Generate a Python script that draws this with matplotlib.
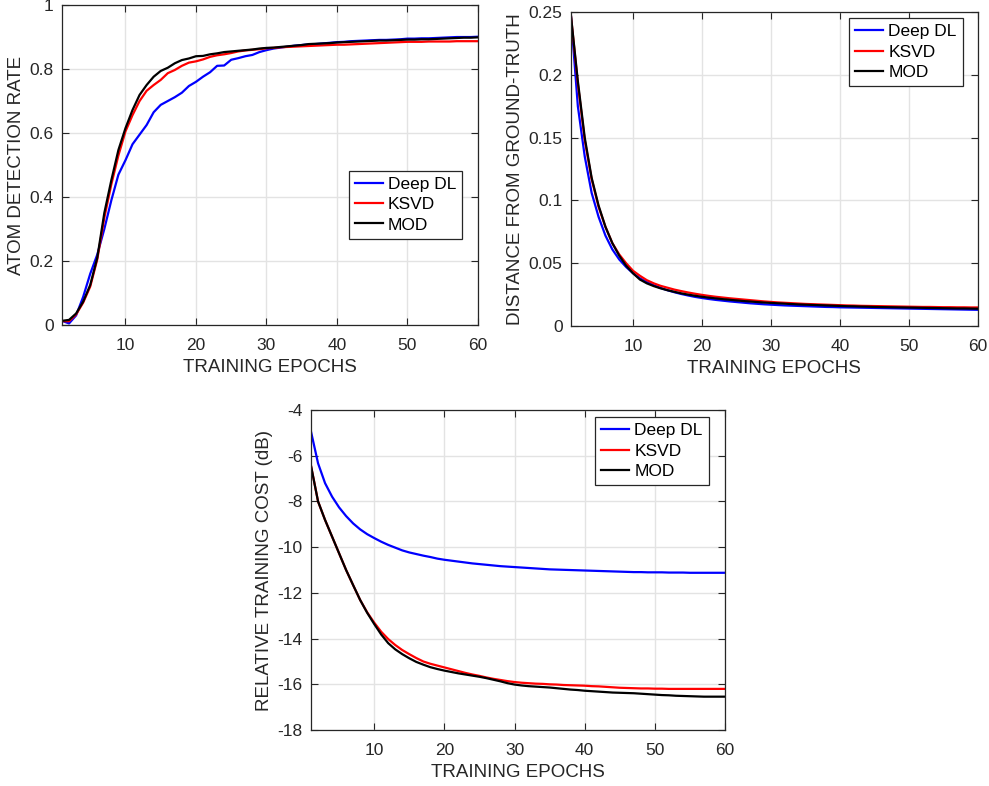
import matplotlib.pyplot as plt
from matplotlib.ticker import FuncFormatter

plt.rcParams['font.family'] = ['Liberation Sans', 'DejaVu Sans']
plt.rcParams['axes.unicode_minus'] = False

epochs = list(range(1, 61))

# atom detection rate
adr_deep = [0.013, 0.005, 0.030, 0.088, 0.160, 0.220, 0.300, 0.390, 0.470, 0.515,
            0.565, 0.595, 0.625, 0.665, 0.688, 0.700, 0.712, 0.726, 0.747, 0.760,
            0.776, 0.790, 0.810, 0.811, 0.829, 0.834, 0.840, 0.844, 0.853, 0.859,
            0.864, 0.867, 0.870, 0.873, 0.875, 0.877, 0.878, 0.880, 0.882, 0.884,
            0.885, 0.887, 0.888, 0.889, 0.890, 0.891, 0.891, 0.892, 0.893, 0.895,
            0.895, 0.896, 0.896, 0.897, 0.898, 0.899, 0.900, 0.900, 0.900, 0.901]
adr_ksvd = [0.012, 0.012, 0.033, 0.070, 0.120, 0.205, 0.335, 0.440, 0.530, 0.605,
            0.656, 0.700, 0.732, 0.750, 0.766, 0.787, 0.797, 0.810, 0.820, 0.824,
            0.830, 0.838, 0.843, 0.846, 0.850, 0.855, 0.858, 0.860, 0.862, 0.865,
            0.866, 0.868, 0.869, 0.870, 0.871, 0.872, 0.873, 0.874, 0.875, 0.876,
            0.876, 0.877, 0.878, 0.879, 0.880, 0.881, 0.882, 0.883, 0.884, 0.885,
            0.885, 0.885, 0.886, 0.886, 0.886, 0.886, 0.887, 0.887, 0.887, 0.887]
adr_mod = [0.013, 0.016, 0.036, 0.073, 0.125, 0.210, 0.350, 0.453, 0.547, 0.615,
           0.672, 0.719, 0.750, 0.776, 0.794, 0.804, 0.818, 0.828, 0.833, 0.840,
           0.841, 0.846, 0.849, 0.853, 0.855, 0.857, 0.859, 0.861, 0.864, 0.866,
           0.867, 0.869, 0.871, 0.873, 0.875, 0.878, 0.879, 0.880, 0.881, 0.883,
           0.884, 0.885, 0.886, 0.887, 0.888, 0.889, 0.889, 0.890, 0.891, 0.892,
           0.892, 0.893, 0.893, 0.894, 0.895, 0.896, 0.897, 0.898, 0.898, 0.899]

# distance from ground-truth
dist_deep = [0.247, 0.175, 0.135, 0.106, 0.087, 0.072, 0.061, 0.053, 0.047, 0.042,
             0.038, 0.035, 0.0325, 0.0303, 0.0285, 0.0269, 0.0255, 0.0243, 0.0232, 0.0223,
             0.0215, 0.0208, 0.0202, 0.0196, 0.0191, 0.0186, 0.0181, 0.0177, 0.0173, 0.0170,
             0.0167, 0.0164, 0.0162, 0.0160, 0.0158, 0.0156, 0.0154, 0.0152, 0.0151, 0.0149,
             0.0148, 0.0147, 0.0146, 0.0145, 0.0144, 0.0143, 0.0142, 0.0141, 0.0140, 0.0139,
             0.0138, 0.0137, 0.0136, 0.0135, 0.0134, 0.0133, 0.0132, 0.0131, 0.0130, 0.0129]
dist_ksvd = [0.247, 0.193, 0.148, 0.117, 0.095, 0.079, 0.066, 0.057, 0.050, 0.044,
             0.040, 0.0365, 0.034, 0.032, 0.0305, 0.029, 0.0278, 0.0267, 0.0257, 0.0248,
             0.0240, 0.0233, 0.0227, 0.0221, 0.0216, 0.0211, 0.0206, 0.0201, 0.0196, 0.0192,
             0.0188, 0.0185, 0.0182, 0.0179, 0.0176, 0.0174, 0.0172, 0.0170, 0.0168, 0.0166,
             0.0164, 0.0163, 0.0161, 0.0160, 0.0159, 0.0158, 0.0157, 0.0156, 0.0155, 0.0154,
             0.0153, 0.0152, 0.0152, 0.0151, 0.0150, 0.0150, 0.0149, 0.0149, 0.0148, 0.0148]
dist_mod = [0.247, 0.195, 0.150, 0.118, 0.096, 0.079, 0.066, 0.056, 0.048, 0.042,
            0.037, 0.034, 0.0318, 0.0300, 0.0285, 0.0272, 0.0260, 0.0250, 0.0241, 0.0233,
            0.0226, 0.0220, 0.0214, 0.0209, 0.0204, 0.0199, 0.0195, 0.0191, 0.0187, 0.0184,
            0.0181, 0.0178, 0.0175, 0.0172, 0.0170, 0.0168, 0.0166, 0.0164, 0.0162, 0.0160,
            0.0158, 0.0157, 0.0155, 0.0154, 0.0152, 0.0151, 0.0150, 0.0149, 0.0148, 0.0147,
            0.0146, 0.0145, 0.0144, 0.0143, 0.0142, 0.0141, 0.0140, 0.0140, 0.0139, 0.0138]

# relative training cost (dB)
cost_deep = [-4.95, -6.33, -7.20, -7.79, -8.26, -8.64, -8.96, -9.22, -9.43, -9.60,
             -9.76, -9.90, -10.02, -10.14, -10.23, -10.30, -10.37, -10.43, -10.50, -10.55,
             -10.59, -10.63, -10.67, -10.71, -10.74, -10.77, -10.80, -10.83, -10.85, -10.87,
             -10.89, -10.91, -10.93, -10.95, -10.97, -10.98, -10.99, -11.00, -11.01, -11.02,
             -11.03, -11.04, -11.05, -11.06, -11.07, -11.08, -11.09, -11.09, -11.10, -11.10,
             -11.10, -11.11, -11.11, -11.11, -11.12, -11.12, -11.12, -11.12, -11.12, -11.12]
cost_ksvd = [-6.45, -8.00, -8.81, -9.54, -10.27, -11.00, -11.66, -12.31, -12.85, -13.30,
             -13.70, -14.02, -14.28, -14.50, -14.68, -14.85, -15.00, -15.10, -15.18, -15.26,
             -15.34, -15.42, -15.50, -15.57, -15.63, -15.70, -15.76, -15.81, -15.86, -15.90,
             -15.93, -15.95, -15.97, -15.98, -16.00, -16.01, -16.03, -16.04, -16.05, -16.06,
             -16.08, -16.09, -16.11, -16.13, -16.15, -16.16, -16.17, -16.18, -16.18, -16.19,
             -16.19, -16.20, -16.20, -16.20, -16.20, -16.20, -16.20, -16.20, -16.20, -16.20]
cost_mod = [-6.45, -8.00, -8.81, -9.54, -10.27, -11.00, -11.66, -12.31, -12.87, -13.36,
            -13.82, -14.20, -14.47, -14.68, -14.86, -15.02, -15.14, -15.25, -15.33, -15.40,
            -15.46, -15.52, -15.57, -15.62, -15.67, -15.73, -15.80, -15.87, -15.95, -16.01,
            -16.05, -16.08, -16.10, -16.12, -16.14, -16.17, -16.20, -16.23, -16.25, -16.28,
            -16.30, -16.32, -16.34, -16.36, -16.37, -16.38, -16.39, -16.41, -16.43, -16.45,
            -16.47, -16.48, -16.50, -16.51, -16.52, -16.53, -16.54, -16.54, -16.54, -16.54]

labels = ['Deep DL', 'KSVD', 'MOD']
colors = ['#0000ff', '#ff0000', '#000000']
TXT = '#262626'


def fmt(v, pos):
    return ('%.2f' % v).rstrip('0').rstrip('.')


def style(ax, ylabel, ylim, yticks, legend_anchor, legend_loc):
    ax.set_xlim(1, 60)
    ax.set_ylim(*ylim)
    ax.set_xticks([10, 20, 30, 40, 50, 60])
    ax.set_yticks(yticks)
    ax.yaxis.set_major_formatter(FuncFormatter(fmt))
    ax.grid(True, color='#e3e3e3', linewidth=1)
    ax.set_axisbelow(True)
    ax.tick_params(direction='in', top=True, right=True, length=5,
                   labelsize=12.5, colors=TXT, width=0.8, pad=6)
    ax.tick_params(axis='x', pad=9)
    for s in ax.spines.values():
        s.set_color(TXT)
        s.set_linewidth(0.9)
    ax.set_xlabel('TRAINING EPOCHS', fontsize=13.5, color=TXT, labelpad=5)
    ax.set_ylabel(ylabel, fontsize=13.5, color=TXT, labelpad=3)
    leg = ax.legend(loc=legend_loc, bbox_to_anchor=legend_anchor, fontsize=12.5,
                    fancybox=False, framealpha=1, edgecolor=TXT,
                    handlelength=1.6, handletextpad=0.3, borderpad=0.35,
                    labelspacing=0.3, borderaxespad=0)
    leg.get_frame().set_linewidth(0.9)
    for t in leg.get_texts():
        t.set_color('#000000')


fig = plt.figure(figsize=(9.89, 7.86), dpi=100)
ax1 = fig.add_axes([0.0627, 0.5865, 0.4206, 0.4071])
ax2 = fig.add_axes([0.5773, 0.5852, 0.4115, 0.3995])
ax3 = fig.add_axes([0.3145, 0.0712, 0.4186, 0.4071])

for ax, series in [(ax1, [adr_deep, adr_ksvd, adr_mod]),
                   (ax2, [dist_deep, dist_ksvd, dist_mod]),
                   (ax3, [cost_deep, cost_ksvd, cost_mod])]:
    for y, c, lab in zip(series, colors, labels):
        ax.plot(epochs, y, color=c, linewidth=1.6, label=lab)

style(ax1, 'ATOM DETECTION RATE', (0, 1), [0, 0.2, 0.4, 0.6, 0.8, 1],
      (0.962, 0.27), 'lower right')
style(ax2, 'DISTANCE FROM GROUND-TRUTH', (0, 0.25),
      [0, 0.05, 0.1, 0.15, 0.2, 0.25], (0.963, 0.981), 'upper right')
style(ax3, 'RELATIVE TRAINING COST (dB)', (-18, -4),
      [-18, -16, -14, -12, -10, -8, -6, -4], (0.961, 0.978), 'upper right')

fig.savefig('out.png', dpi=100)
